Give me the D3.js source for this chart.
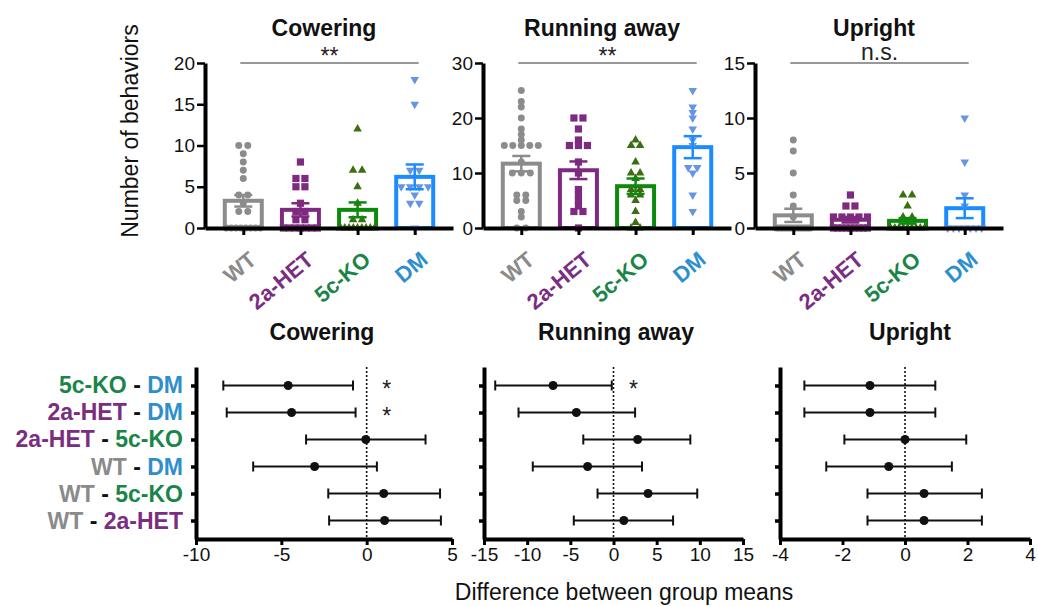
<!DOCTYPE html>
<html>
<head>
<meta charset="utf-8">
<script src="https://cdn.jsdelivr.net/npm/d3@7"></script>
<style>
body{margin:0;background:#fff}
svg text{font-family:"Liberation Sans",Arial,sans-serif}
</style>
</head>
<body>
<script>
// ---- data ----
const groups=["WT","2a-HET","5c-KO","DM"];
const behaviors=["Cowering","Running away","Upright"];
const yMax=[20,30,15];
const yTicks=[[0,5,10,15,20],[0,10,20,30],[0,5,10,15]];
const sigText=["**","**","n.s."];

// individual animals
const cowerWT=[10,10,9,8,7,6,4,4,3,2,2,0,0,0,0,0,0,0,0];
const cowerHET=[8,6,6,5,5,3,2,2,1,1,0,0,0,0,0,0,0];
const cowerKO=[12,7,7,5,3,1,1,0,0,0,0,0,0,0,0,0];
const cowerDM=[18,15,7,7,5,5,5,5,4,3,3,0];
const runWT=[25,23,22,20,18,17,16,15,15,15,15,15,12,10,10,10,6,6,5,5,3,2,0,0];
const runHET=[20,20,18,16,15,15,15,12,10,7,6,5,4,3,3,0];
const runKO=[16,15,15,12,10,10,9,7,7,6,6,5,3,1,0,0];
const runDM=[25,22,21,20,18,16,15,11,11,10,6,3];
const uprWT=[8,7,5,3,2,1,0,0,0,0,0,0,0,0,0,0,0,0,0,0,0,0];
const uprHET=[3,2,2,1,1,1,1,1,0,0,0,0,0,0,0,0,0];
const uprKO=[3,3,2,1,1,0,0,0,0,0,0,0,0,0];
const uprDM=[10,6,3,2,0,0,0,0,0,0,0];

// bar means and SEM
const cowerMean=[3.3,2.2,2.2,6.2], cowerSem=[0.7,0.8,0.9,1.5];
const runMean=[11.7,10.5,7.6,14.7], runSem=[1.4,1.6,1.4,2.0];
const uprMean=[1.15,0.75,0.65,1.8], uprSem=[0.6,0.25,0.25,0.9];

// multiple comparisons (difference between group means, 95% CI)
const comparisons=[["5c-KO","DM"],["2a-HET","DM"],["2a-HET","5c-KO"],["WT","DM"],["WT","5c-KO"],["WT","2a-HET"]];
const cowerDiff=[-4.6,-4.4,-0.05,-3.05,1.0,1.05];
const cowerLo=[-8.4,-8.2,-3.55,-6.65,-2.25,-2.2];
const cowerHi=[-0.8,-0.65,3.45,0.6,4.3,4.35];
const runDiff=[-7.0,-4.3,2.8,-3.0,4.0,1.2];
const runLo=[-13.7,-11.0,-3.5,-9.35,-1.85,-4.6];
const runHi=[-0.2,2.5,8.9,3.3,9.7,6.9];
const uprDiff=[-1.12,-1.12,0,-0.52,0.61,0.61];
const uprLo=[-3.22,-3.22,-1.94,-2.52,-1.2,-1.2];
const uprHi=[0.97,0.97,1.96,1.5,2.46,2.46];
const cowerStar=["*","*","","","",""];
const runStar=["*","","","","",""];
const uprStar=["","","","","",""];
const diffDomain=[[-10,5],[-15,15],[-4,4]];
const diffTicks=[[-10,-5,0,5],[-15,-10,-5,0,5,10,15],[-4,-2,0,2,4]];

// ---- styles ----
const labelColor={"WT":"#8a8a8a","2a-HET":"#7b2d80","5c-KO":"#198549","DM":"#2e8fcc"};
const barColor={"WT":"#8c8c8c","2a-HET":"#7e2a80","5c-KO":"#0c8a0c","DM":"#1a8cff"};
const ptColor={"WT":"#8c8c8c","2a-HET":"#7e2a80","5c-KO":"#3c6e12","DM":"#6795e4"};
const ptSymbol={"WT":d3.symbolCircle,"2a-HET":d3.symbolSquare,"5c-KO":d3.symbolTriangle,"DM":d3.symbolTriangle};
const ptSize={"WT":38,"2a-HET":52,"5c-KO":32,"DM":32};

const svg=d3.select("body").append("svg").attr("width",1038).attr("height",606);

const topPanels=[
  {pts:[cowerWT,cowerHET,cowerKO,cowerDM],mean:cowerMean,sem:cowerSem},
  {pts:[runWT,runHET,runKO,runDM],mean:runMean,sem:runSem},
  {pts:[uprWT,uprHET,uprKO,uprDM],mean:uprMean,sem:uprSem}
];
const topX0=[205,483,755], topW=248, topBottom=228, topTop=63;

// spread equal values horizontally
function spread(vals){
  const out=[];
  d3.groups(vals,v=>v).forEach(([v,arr])=>{
    const k=arr.length, s=k>1?Math.min(9,34/(k-1)):0;
    arr.forEach((_,j)=>out.push({v:v,dx:(j-(k-1)/2)*s}));
  });
  return out;
}

// y-axis title
svg.append("text").attr("transform","translate(138,131) rotate(-90)")
  .attr("text-anchor","middle").attr("font-size",23).attr("fill","#111")
  .text("Number of behaviors");

topPanels.forEach((p,i)=>{
  const x0=topX0[i];
  const x=d3.scalePoint().domain(groups).range([x0,x0+topW]).padding(0.67);
  const y=d3.scaleLinear().domain([0,yMax[i]]).range([topBottom,topTop]);
  const g=svg.append("g");

  // title
  g.append("text").attr("x",x0+topW/2-5).attr("y",36).attr("text-anchor","middle")
    .attr("font-size",23).attr("font-weight","bold").attr("fill","#111").text(behaviors[i]);

  // significance
  const lx1=x(groups[0])-3, lx2=x(groups[3])+4;
  g.append("line").attr("x1",lx1).attr("x2",lx2).attr("y1",topTop).attr("y2",topTop)
    .attr("stroke","#333").attr("stroke-width",1.2);
  g.append("text").attr("x",(lx1+lx2)/2).attr("y",sigText[i]=="n.s."?60:63.5)
    .attr("text-anchor","middle").attr("font-size",23).attr("fill","#222").text(sigText[i]);

  // bars
  g.selectAll(".bar").data(groups).enter().append("rect")
    .attr("x",d=>x(d)-18.5).attr("width",37)
    .attr("y",(d,j)=>y(p.mean[j])).attr("height",(d,j)=>topBottom-y(p.mean[j]))
    .attr("fill","none").attr("stroke",d=>barColor[d]).attr("stroke-width",4);

  // points
  groups.forEach((grp,j)=>{
    const sym=d3.symbol(ptSymbol[grp],ptSize[grp]);
    g.selectAll(null).data(spread(p.pts[j])).enter().append("path")
      .attr("d",sym)
      .attr("transform",d=>`translate(${x(grp)+d.dx},${y(d.v)})`+(grp=="DM"?" rotate(180)":""))
      .attr("fill",ptColor[grp]);
  });

  // error bars
  groups.forEach((grp,j)=>{
    const m=p.mean[j], s=p.sem[j], cx=x(grp);
    const eb=g.append("g").attr("stroke",barColor[grp]).attr("stroke-width",2.5);
    eb.append("line").attr("x1",cx).attr("x2",cx).attr("y1",y(m-s)).attr("y2",y(m+s));
    [m-s,m+s].forEach(v=>eb.append("line").attr("x1",cx-9).attr("x2",cx+9).attr("y1",y(v)).attr("y2",y(v)));
  });

  // axes
  const ya=g.append("g").attr("transform",`translate(${x0},0)`)
    .call(d3.axisLeft(y).tickValues(yTicks[i]).tickSize(8).tickSizeOuter(0));
  ya.select(".domain").attr("stroke-width",4);
  ya.selectAll(".tick line").attr("stroke-width",2.5);
  ya.selectAll(".tick text").attr("font-size",19).attr("fill","#111").attr("x",-10)
    .attr("font-family","Liberation Sans,Arial,sans-serif");

  const xa=g.append("g").attr("transform",`translate(0,${topBottom})`)
    .call(d3.axisBottom(x).tickSize(7).tickSizeOuter(0));
  xa.select(".domain").attr("stroke-width",4);
  xa.selectAll(".tick line").attr("stroke-width",3);
  xa.selectAll(".tick text").attr("x",0).attr("y",0).attr("dy",0)
    .attr("transform","translate(14,34) rotate(-40)")
    .style("text-anchor","end").attr("font-size",22).attr("font-weight","bold")
    .attr("font-family","Liberation Sans,Arial,sans-serif")
    .attr("fill",d=>labelColor[d]);
});

// ---- bottom panels ----
const botPanels=[
  {diff:cowerDiff,lo:cowerLo,hi:cowerHi,star:cowerStar},
  {diff:runDiff,lo:runLo,hi:runHi,star:runStar},
  {diff:uprDiff,lo:uprLo,hi:uprHi,star:uprStar}
];
const botX0=[196,484,780], botW=[256,259,250], botTop=367, botBottom=539;
const rowIdx=comparisons.map((c,k)=>k);

botPanels.forEach((p,i)=>{
  const x=d3.scaleLinear().domain(diffDomain[i]).range([botX0[i],botX0[i]+botW[i]]);
  const y=d3.scalePoint().domain(rowIdx).range([botTop,botBottom]).padding(0.685);
  const g=svg.append("g");

  g.append("text").attr("x",[322,616,910][i]).attr("y",340).attr("text-anchor","middle")
    .attr("font-size",23).attr("font-weight","bold").attr("fill","#111").text(behaviors[i]);

  // zero line
  g.append("line").attr("x1",x(0)).attr("x2",x(0)).attr("y1",botTop).attr("y2",botBottom)
    .attr("stroke","#111").attr("stroke-width",1.6).attr("stroke-dasharray","2,2");

  // CIs
  rowIdx.forEach(k=>{
    const cy=y(k);
    const r=g.append("g").attr("stroke","#111").attr("stroke-width",2);
    r.append("line").attr("x1",x(p.lo[k])).attr("x2",x(p.hi[k])).attr("y1",cy).attr("y2",cy);
    [p.lo[k],p.hi[k]].forEach(v=>r.append("line").attr("x1",x(v)).attr("x2",x(v)).attr("y1",cy-5).attr("y2",cy+5));
    g.append("circle").attr("cx",x(p.diff[k])).attr("cy",cy).attr("r",4.5).attr("fill","#111");
    if(p.star[k]) g.append("text").attr("x",x(0)+20).attr("y",cy+12).attr("text-anchor","middle")
      .attr("font-size",23).attr("fill","#222").text(p.star[k]);
  });

  const xa=g.append("g").attr("transform",`translate(0,${botBottom})`)
    .call(d3.axisBottom(x).tickValues(diffTicks[i]).tickFormat(d=>String(d)).tickSize(6).tickSizeOuter(0));
  xa.select(".domain").attr("stroke-width",4);
  xa.selectAll(".tick line").attr("stroke-width",3);
  xa.selectAll(".tick text").attr("font-size",19).attr("fill","#111")
    .attr("font-family","Liberation Sans,Arial,sans-serif");

  const ya=g.append("g").attr("transform",`translate(${botX0[i]},0)`)
    .call(d3.axisLeft(y).tickSize(5).tickFormat("").tickSizeOuter(0));
  ya.select(".domain").attr("stroke-width",4);
  ya.selectAll(".tick line").attr("stroke-width",3.5);

  if(i==0){
    rowIdx.forEach(k=>{
      const [a,b]=comparisons[k];
      const t=g.append("text").attr("x",183).attr("y",y(k)+8).attr("text-anchor","end")
        .attr("font-size",23).attr("font-weight","bold");
      t.append("tspan").attr("fill",labelColor[a]).text(a);
      t.append("tspan").attr("fill","#111").text(" - ");
      t.append("tspan").attr("fill",labelColor[b]).text(b);
    });
  }
});

svg.append("text").attr("x",624).attr("y",600).attr("text-anchor","middle")
  .attr("font-size",23).attr("fill","#111").text("Difference between group means");
</script>
</body>
</html>
